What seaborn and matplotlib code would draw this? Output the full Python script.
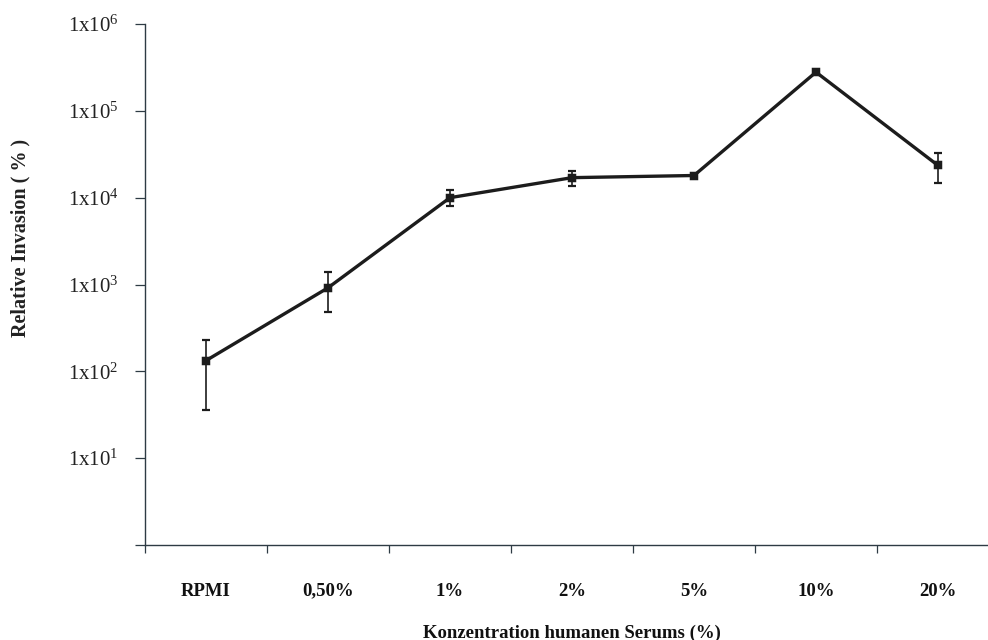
import numpy as np
import pandas as pd
import matplotlib
matplotlib.use("Agg")
import matplotlib.pyplot as plt
import seaborn as sns

# Serum concentrations and relative invasion (mean with lower / upper error bounds)
categories = ["RPMI", "0,50%", "1%", "2%", "5%", "10%", "20%"]
invasion_mean = [133, 916, 10000, 17000, 18000, 279000, 23500]
invasion_low = [36, 480, 7940, 13600, 17400, 272000, 14900]
invasion_high = [227, 1375, 12100, 20400, 18600, 286000, 32900]

y_tick_values = [1, 10, 100, 1000, 10000, 100000, 1000000]
y_tick_labels = ["", "1x10$^{1}$", "1x10$^{2}$", "1x10$^{3}$", "1x10$^{4}$",
                 "1x10$^{5}$", "1x10$^{6}$"]

df = pd.DataFrame({"Konzentration": categories, "Invasion": invasion_mean})

sns.set_theme(style="white")
plt.rcParams["font.family"] = ["Liberation Serif", "DejaVu Serif"]
plt.rcParams["mathtext.default"] = "regular"
plt.rcParams["mathtext.fontset"] = "custom"
plt.rcParams["mathtext.rm"] = "Liberation Serif"

fig = plt.figure(figsize=(9.88, 6.4), dpi=100)
ax = fig.add_axes([145 / 988, (640 - 545) / 640, 854 / 988, 521 / 640])

line_color = "#1c1c1c"
axis_color = "#2e3b44"

sns.pointplot(data=df, x="Konzentration", y="Invasion", order=categories,
              color=line_color, markers="s", linestyles="-",
              markersize=5, linewidth=2.4, errorbar=None, ax=ax, zorder=3)

pos = np.arange(len(categories))
mean = np.array(invasion_mean, dtype=float)
yerr = np.vstack([mean - np.array(invasion_low), np.array(invasion_high) - mean])
ax.errorbar(pos, mean, yerr=yerr, fmt="none", ecolor=line_color,
            elinewidth=1.2, capsize=3, capthick=1.6, zorder=2)

ax.set_yscale("log")
ax.set_ylim(1, 1e6)
ax.set_xlim(-0.5, len(categories) - 0.5)

ax.set_yticks(y_tick_values)
ax.set_yticklabels(y_tick_labels)
ax.yaxis.set_minor_locator(matplotlib.ticker.NullLocator())

# category labels centred, tick marks on the category boundaries
ax.set_xticks(pos)
ax.set_xticklabels(categories, fontweight="bold", fontsize=13.5)
ax.set_xticks(np.arange(-0.5, len(categories)), minor=True)
ax.tick_params(axis="x", which="major", length=0, pad=27, colors="#111111")
ax.tick_params(axis="x", which="minor", length=6, width=0.9,
               color=axis_color, bottom=True, direction="out")
ax.tick_params(axis="y", which="major", length=7, width=0.9, color=axis_color,
               labelsize=15, pad=12, colors="#222222", left=True,
               direction="out")

for side in ["top", "right"]:
    ax.spines[side].set_visible(False)
for side in ["left", "bottom"]:
    ax.spines[side].set_color(axis_color)
    ax.spines[side].set_linewidth(1.0)

ax.set_xlabel("Konzentration humanen Serums (%)", fontweight="bold",
              fontsize=13.5, color="#111111")
ax.xaxis.set_label_coords(0.5, -0.152)
ax.set_ylabel("Relative Invasion ( % )", fontweight="bold", fontsize=14.5,
              color="#222222")
ax.yaxis.set_label_coords(-0.134, 0.589)

fig.savefig("out.png", dpi=100)
